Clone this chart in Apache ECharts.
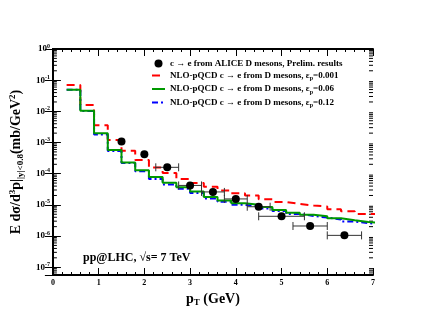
<!DOCTYPE html>
<html>
<head>
<meta charset="utf-8">
<script src="https://cdn.jsdelivr.net/npm/echarts@6/dist/echarts.min.js"></script>
<style>
html, body { margin: 0; padding: 0; background: #fff; }
#chart { width: 421px; height: 325px; }
</style>
</head>
<body>
<div id="chart"></div>
<script>
// ---- histogram bins (pT, GeV) ----
var binLow = [0.3, 0.6, 0.9, 1.2, 1.5, 1.8, 2.1, 2.4, 2.7, 3.0, 3.3, 3.6,
              3.9, 4.2, 4.5, 4.8, 5.1, 5.4, 5.7, 6.0, 6.3, 6.6, 6.9];
var lastEdge = 7.2;

// NLO-pQCD, eps_p = 0.001 (red)
var nloRed = [0.070, 0.016, 3.6e-3, 1.2e-3, 5.4e-4, 2.75e-4, 1.58e-4, 1.05e-4, 6.8e-5, 5.0e-5, 3.8e-5, 2.9e-5,
              2.35e-5, 2.0e-5, 1.5e-5, 1.23e-5, 1.07e-5, 9.5e-6, 8.9e-6, 7.2e-6, 6.2e-6, 5.1e-6, 5.0e-6];
// NLO-pQCD, eps_p = 0.06 (green)
var nloGreen = [0.049, 0.0105, 2.0e-3, 5.8e-4, 2.3e-4, 1.3e-4, 7.9e-5, 5.1e-5, 3.7e-5, 2.7e-5, 1.8e-5, 1.38e-5,
                1.12e-5, 1.0e-5, 8.5e-6, 6.9e-6, 5.6e-6, 4.8e-6, 4.3e-6, 3.7e-6, 3.2e-6, 2.8e-6, 2.6e-6];
// NLO-pQCD, eps_p = 0.12 (blue)
var nloBlue = [0.049, 0.0102, 1.8e-3, 5.3e-4, 2.2e-4, 1.2e-4, 6.8e-5, 4.5e-5, 3.3e-5, 2.4e-5, 1.6e-5, 1.25e-5,
               1.0e-5, 9.0e-6, 7.7e-6, 6.3e-6, 5.1e-6, 4.4e-6, 3.9e-6, 3.4e-6, 2.9e-6, 2.6e-6, 2.4e-6];

// ALICE preliminary points
var alicePt = [1.5, 2.0, 2.5, 3.0, 3.5, 4.0, 4.5, 5.0, 5.625, 6.375];
var aliceVal = [1.07e-3, 4.2e-4, 1.6e-4, 4.2e-5, 2.6e-5, 1.55e-5, 8.7e-6, 4.3e-6, 2.1e-6, 1.05e-6];
var aliceErrX = [0, 0, 0.25, 0.25, 0.25, 0.25, 0.25, 0.5, 0.375, 0.375];

// axis range
var xMin = 0, xMax = 7;
var yMin = Math.pow(10, -7.25), yMax = 1;
var decades = [-8, -7, -6, -5, -4, -3, -2, -1];

var names = [
    'c → e from ALICE D mesons, Prelim. results',
    'NLO-pQCD c → e from D mesons, εp=0.001',
    'NLO-pQCD c → e from D mesons, εp=0.06',
    'NLO-pQCD c → e from D mesons, εp=0.12'
];

var FONT = 'Liberation Serif';

function stepData(vals) {
    var d = [];
    for (var i = 0; i < vals.length; i++) {
        d.push([binLow[i], vals[i]]);
    }
    d.push([lastEdge, vals[vals.length - 1]]);
    return d;
}

var pointData = [];
for (var i = 0; i < alicePt.length; i++) {
    pointData.push([alicePt[i], aliceVal[i], aliceErrX[i]]);
}

// minor ticks of the log axis (2..9 per decade)
var minorData = [];
for (var k = 0; k < decades.length; k++) {
    for (var m = 2; m <= 9; m++) {
        var v = m * Math.pow(10, decades[k]);
        if (v > yMin && v < yMax) minorData.push([0, v]);
    }
}

var chart = echarts.init(document.getElementById('chart'));

function logLabel(v) {
    var l = Math.log10(v);
    var e = Math.round(l);
    if (Math.abs(l - e) > 1e-6) return '';
    return '{b|10}{s|' + e + '}';
}

var axisLineStyle = { color: '#000', width: 2 };
var noDot = { opacity: 0 };

var option = {
    animation: false,
    backgroundColor: '#fff',
    grid: { left: 48, right: 48, top: 49, bottom: 50 },
    legend: {
        orient: 'vertical',
        left: 146,
        top: 54,
        itemWidth: 13,
        itemHeight: 8,
        itemGap: 3,
        data: [
            { name: names[0] },
            { name: names[1], itemStyle: noDot },
            { name: names[2], itemStyle: noDot },
            { name: names[3], itemStyle: noDot }
        ],
        formatter: function (name) {
            return name.replace('εp', 'ε{sub|p}');
        },
        textStyle: {
            fontFamily: FONT, fontWeight: 'bold', fontSize: 9, color: '#000',
            rich: {
                sub: { fontFamily: FONT, fontWeight: 'bold', fontSize: 6, color: '#000', padding: [6, 0, 0, 0] }
            }
        }
    },
    xAxis: [{
        type: 'value',
        min: xMin, max: xMax, interval: 1,
        position: 'bottom',
        name: '{b|p}{sub|T}{b| (GeV)}',
        nameLocation: 'middle',
        nameGap: 12,
        nameTextStyle: {
            rich: {
                b: { fontFamily: FONT, fontWeight: 'bold', fontSize: 14, color: '#000' },
                sub: { fontFamily: FONT, fontWeight: 'bold', fontSize: 9, color: '#000', padding: [8, 0, 0, 0] }
            }
        },
        axisLine: { lineStyle: axisLineStyle },
        axisTick: { inside: true, length: 7, lineStyle: { color: '#000', width: 1 } },
        minorTick: { show: true, splitNumber: 5, length: 3, lineStyle: { color: '#000' } },
        axisLabel: { margin: 4, fontFamily: FONT, fontWeight: 'bold', fontSize: 8, color: '#000' },
        splitLine: { show: false }
    }, {
        type: 'value',
        min: xMin, max: xMax, interval: 1,
        position: 'top',
        axisLine: { lineStyle: axisLineStyle },
        axisTick: { inside: true, length: 7, lineStyle: { color: '#000', width: 1 } },
        minorTick: { show: true, splitNumber: 5, length: 3, lineStyle: { color: '#000' } },
        axisLabel: { show: false },
        splitLine: { show: false }
    }],
    yAxis: [{
        type: 'log',
        logBase: 10,
        min: yMin, max: yMax,
        position: 'left',
        name: 'E dσ/d{sup|3}p|{sub||y|<0.8}(mb/GeV{sup|2})',
        nameLocation: 'middle',
        nameRotate: 90,
        nameGap: 22,
        nameTextStyle: {
            fontFamily: FONT, fontWeight: 'bold', fontSize: 14, color: '#000',
            rich: {
                sup: { fontFamily: FONT, fontWeight: 'bold', fontSize: 9, color: '#000', padding: [0, 0, 8, 0] },
                sub: { fontFamily: FONT, fontWeight: 'bold', fontSize: 9, color: '#000', padding: [8, 0, 0, 0] }
            }
        },
        axisLine: { lineStyle: axisLineStyle },
        axisTick: { inside: true, length: 8, lineStyle: { color: '#000', width: 1 } },
        axisLabel: {
            margin: 3,
            formatter: logLabel,
            rich: {
                b: { fontFamily: FONT, fontWeight: 'bold', fontSize: 9, color: '#000' },
                s: { fontFamily: FONT, fontWeight: 'bold', fontSize: 6, color: '#000', padding: [0, 0, 6, 0] }
            }
        },
        splitLine: { show: false }
    }, {
        type: 'log',
        logBase: 10,
        min: yMin, max: yMax,
        position: 'right',
        axisLine: { lineStyle: axisLineStyle },
        axisTick: { inside: true, length: 8, lineStyle: { color: '#000', width: 1 } },
        axisLabel: { show: false },
        splitLine: { show: false }
    }],
    graphic: [{
        type: 'text',
        left: 83,
        top: 252,
        style: {
            text: 'pp@LHC, √s= 7 TeV',
            fontFamily: FONT, fontWeight: 'bold', fontSize: 12, fill: '#000'
        }
    }],
    series: [{
        // log-axis minor ticks on left and right frame
        type: 'custom',
        silent: true,
        xAxisIndex: 0, yAxisIndex: 0,
        data: minorData,
        renderItem: function (params, api) {
            var l = api.coord([xMin, api.value(1)]);
            var r = api.coord([xMax, api.value(1)]);
            return {
                type: 'group',
                children: [
                    { type: 'line', shape: { x1: l[0], y1: l[1], x2: l[0] + 4, y2: l[1] }, style: { stroke: '#000', lineWidth: 1 } },
                    { type: 'line', shape: { x1: r[0], y1: r[1], x2: r[0] - 4, y2: r[1] }, style: { stroke: '#000', lineWidth: 1 } }
                ]
            };
        },
        z: 1
    }, {
        name: names[1],
        type: 'line',
        step: 'end',
        data: stepData(nloRed),
        showSymbol: false,
        symbol: 'none',
        clip: true,
        color: '#ff0000',
        lineStyle: { color: '#ff0000', width: 2, type: [8, 5] },
        z: 2
    }, {
        name: names[3],
        type: 'line',
        step: 'end',
        data: stepData(nloBlue),
        showSymbol: false,
        symbol: 'none',
        clip: true,
        color: '#0000ff',
        lineStyle: { color: '#0000ff', width: 2, type: [6, 3, 2, 3] },
        z: 3
    }, {
        name: names[2],
        type: 'line',
        step: 'end',
        data: stepData(nloGreen),
        showSymbol: false,
        symbol: 'none',
        clip: true,
        color: '#009900',
        lineStyle: { color: '#009900', width: 2 },
        z: 4
    }, {
        // horizontal error bars of the ALICE points
        type: 'custom',
        silent: true,
        data: pointData,
        renderItem: function (params, api) {
            var e = api.value(2);
            if (!e) return null;
            var a = api.coord([api.value(0) - e, api.value(1)]);
            var b = api.coord([api.value(0) + e, api.value(1)]);
            var st = { stroke: '#333', lineWidth: 1 };
            return {
                type: 'group',
                children: [
                    { type: 'line', shape: { x1: a[0], y1: a[1], x2: b[0], y2: b[1] }, style: st },
                    { type: 'line', shape: { x1: a[0], y1: a[1] - 4, x2: a[0], y2: a[1] + 4 }, style: st },
                    { type: 'line', shape: { x1: b[0], y1: b[1] - 4, x2: b[0], y2: b[1] + 4 }, style: st }
                ]
            };
        },
        z: 5
    }, {
        name: names[0],
        type: 'scatter',
        data: pointData,
        symbol: 'circle',
        symbolSize: 8,
        color: '#000',
        itemStyle: { color: '#000', opacity: 1 },
        z: 6
    }]
};

chart.setOption(option);
</script>
</body>
</html>
